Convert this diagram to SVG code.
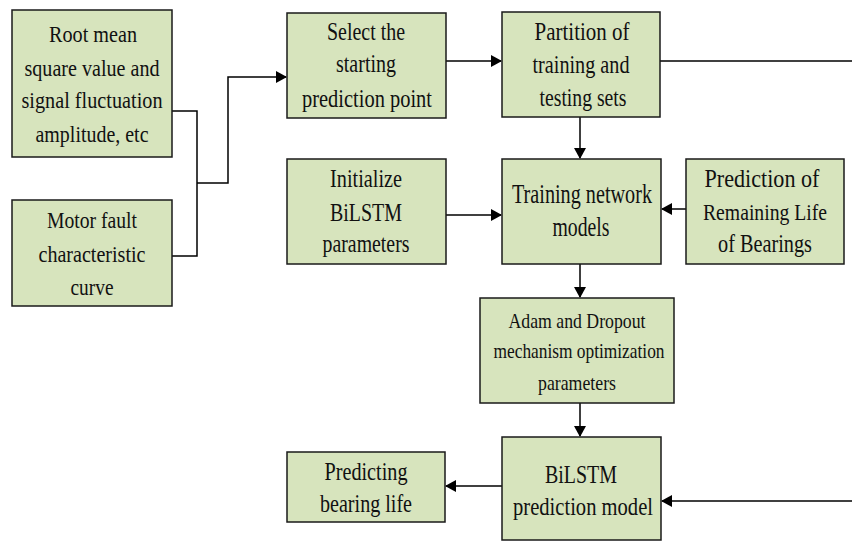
<svg xmlns="http://www.w3.org/2000/svg" width="852" height="542" viewBox="0 0 852 542">
<defs>
<style>
.box{fill:#d7e4bd;stroke:#1a1a1a;stroke-width:1.5}
.t{font-family:"Liberation Serif","Times New Roman",serif;font-size:25px;fill:#111;text-anchor:middle}
.s1{font-size:23.5px}
.s2{font-size:28px}
.s3{font-size:21.5px}
.c{fill:none;stroke:#000;stroke-width:1.5}
</style>
<marker id="ah" markerUnits="userSpaceOnUse" markerWidth="11" markerHeight="12" refX="10" refY="6" orient="auto">
<path d="M0,0 L11,6 L0,12 z" fill="#000"/>
</marker>
</defs>
<rect width="852" height="542" fill="#fff"/>
<g id="connectors">
<path class="c" d="M172,111 H197 V256 H172"/>
<path class="c" d="M197,183 H228 V77 H286" marker-end="url(#ah)"/>
<path class="c" d="M446,61 H501" marker-end="url(#ah)"/>
<path class="c" d="M660,61 H852"/>
<path class="c" d="M580,117 V158" marker-end="url(#ah)"/>
<path class="c" d="M446,215 H501" marker-end="url(#ah)"/>
<path class="c" d="M686,209 H662" marker-end="url(#ah)"/>
<path class="c" d="M580,264 V297" marker-end="url(#ah)"/>
<path class="c" d="M580,403 V436" marker-end="url(#ah)"/>
<path class="c" d="M502,486 H446" marker-end="url(#ah)"/>
<path class="c" d="M852,501 H662" marker-end="url(#ah)"/>
</g>
<g id="n-rms">
<rect class="box" x="12" y="10" width="160" height="147"/>
<text class="t s1" x="93" y="42" textLength="88" lengthAdjust="spacingAndGlyphs">Root mean</text>
<text class="t s1" x="92" y="76" textLength="135" lengthAdjust="spacingAndGlyphs">square value and</text>
<text class="t s1" x="92" y="108" textLength="141" lengthAdjust="spacingAndGlyphs">signal fluctuation</text>
<text class="t s1" x="92" y="142" textLength="113" lengthAdjust="spacingAndGlyphs">amplitude, etc</text>
</g>
<g id="n-motor">
<rect class="box" x="12" y="200" width="160" height="106"/>
<text class="t s1" x="92" y="228" textLength="90" lengthAdjust="spacingAndGlyphs">Motor fault</text>
<text class="t s1" x="92" y="262" textLength="107" lengthAdjust="spacingAndGlyphs">characteristic</text>
<text class="t s1" x="92" y="295" textLength="43" lengthAdjust="spacingAndGlyphs">curve</text>
</g>
<g id="n-select">
<rect class="box" x="287" y="13" width="159" height="105"/>
<text class="t" x="366" y="40" textLength="78" lengthAdjust="spacingAndGlyphs">Select the</text>
<text class="t" x="366" y="72" textLength="60" lengthAdjust="spacingAndGlyphs">starting</text>
<text class="t" x="367" y="107" textLength="130" lengthAdjust="spacingAndGlyphs">prediction point</text>
</g>
<g id="n-partition">
<rect class="box" x="502" y="12" width="158" height="105"/>
<text class="t" x="582" y="40" textLength="95" lengthAdjust="spacingAndGlyphs">Partition of</text>
<text class="t" x="581" y="73" textLength="97" lengthAdjust="spacingAndGlyphs">training and</text>
<text class="t" x="583" y="106" textLength="87" lengthAdjust="spacingAndGlyphs">testing sets</text>
</g>
<g id="n-init">
<rect class="box" x="287" y="159" width="159" height="105"/>
<text class="t" x="366" y="187" textLength="72" lengthAdjust="spacingAndGlyphs">Initialize</text>
<text class="t" x="366" y="221" textLength="72" lengthAdjust="spacingAndGlyphs">BiLSTM</text>
<text class="t" x="366" y="252" textLength="87" lengthAdjust="spacingAndGlyphs">parameters</text>
</g>
<g id="n-training">
<rect class="box" x="502" y="159" width="159" height="105"/>
<text class="t s2" x="582" y="203" textLength="140" lengthAdjust="spacingAndGlyphs">Training network</text>
<text class="t s2" x="581" y="236" textLength="57" lengthAdjust="spacingAndGlyphs">models</text>
</g>
<g id="n-remaining">
<rect class="box" x="686" y="159" width="158" height="105"/>
<text class="t" x="762" y="187" textLength="115" lengthAdjust="spacingAndGlyphs">Prediction of</text>
<text class="t s1" x="765" y="220" textLength="124" lengthAdjust="spacingAndGlyphs">Remaining Life</text>
<text class="t" x="765" y="252" textLength="94" lengthAdjust="spacingAndGlyphs">of Bearings</text>
</g>
<g id="n-adam">
<rect class="box" x="480" y="298" width="194" height="105"/>
<text class="t s3" x="577" y="328" textLength="137" lengthAdjust="spacingAndGlyphs">Adam and Dropout</text>
<text class="t s3" x="579" y="358" textLength="171" lengthAdjust="spacingAndGlyphs">mechanism optimization</text>
<text class="t s3" x="577" y="390" textLength="78" lengthAdjust="spacingAndGlyphs">parameters</text>
</g>
<g id="n-bilstm">
<rect class="box" x="502" y="437" width="159" height="103"/>
<text class="t" x="581" y="483" textLength="72" lengthAdjust="spacingAndGlyphs">BiLSTM</text>
<text class="t" x="583" y="515" textLength="140" lengthAdjust="spacingAndGlyphs">prediction model</text>
</g>
<g id="n-predicting">
<rect class="box" x="287" y="452" width="158" height="70"/>
<text class="t" x="366" y="480" textLength="83" lengthAdjust="spacingAndGlyphs">Predicting</text>
<text class="t" x="366" y="512" textLength="92" lengthAdjust="spacingAndGlyphs">bearing life</text>
</g>
</svg>
